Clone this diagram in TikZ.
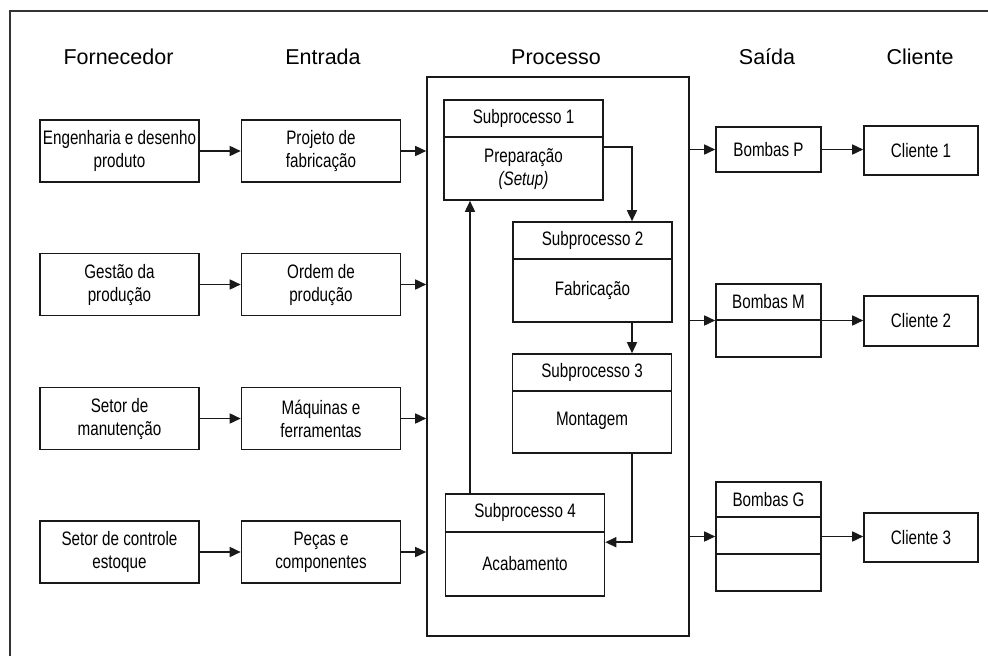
\documentclass[tikz,border=0pt]{standalone}
\usepackage{fontspec}
\setmainfont{Liberation Sans}
\newfontfamily\condfont[FakeStretch=0.78]{Liberation Sans}
\usetikzlibrary{arrows.meta,calc}

\tikzset{
  pen/.style={line width=1.6pt, draw=black!90},
  head/.style={anchor=base, inner sep=0pt, font=\fontsize{21.5}{25}\selectfont},
  box/.style={pen, rectangle, inner sep=0pt, align=center,
              font=\condfont\fontsize{19.5}{23}\selectfont},
  lbl/.style={inner sep=0pt, align=center,
              font=\condfont\fontsize{19.5}{23}\selectfont},
  arr/.style={pen, -{Triangle[length=11pt,width=10pt]}},
}

\begin{document}
\begin{tikzpicture}[x=1pt, y=-1pt]
\useasboundingbox (0,0) rectangle (988,656);

% page frame (open at right and bottom)
\draw[line width=1.3pt, black!80] (988,11) -- (10,11) -- (10,656);

% column headings
\node[head] (hF) at (118.5,64) {Fornecedor};
\node[head] (hE) at (323,64) {Entrada};
\node[head] (hP) at (556,64) {Processo};
\node[head] (hS) at (767,64) {Saída};
\node[head] (hC) at (920,64) {Cliente};

% suppliers
\begin{scope}[every node/.append style={box, minimum width=159pt, minimum height=62pt}]
\node (f1) at (119.5,151) {Engenharia e desenho\\produto};
\node (f2) at (119.5,284.5) {Gestão da\\produção};
\node (f3) at (119.5,418.5) {Setor de\\manutenção};
\node (f4) at (119.5,552) {Setor de controle\\estoque};
% inputs
\node (e1) at (321,151) {Projeto de\\fabricação};
\node (e2) at (321,284.5) {Ordem de\\produção};
\node (e3) at (321,418.5) {Máquinas e\\ferramentas};
\node (e4) at (321,552) {Peças e\\componentes};
\end{scope}

% process frame
\node[pen, rectangle, minimum width=262pt, minimum height=559pt, inner sep=0pt] (proc) at (558,356.5) {};

% subprocess boxes
\begin{scope}[every node/.append style={box, minimum width=159pt}]
\node[minimum height=100pt] (s1) at (523.5,150) {};
\node[minimum height=100pt] (s2) at (592.5,272) {};
\node[minimum height=99pt] (s3) at (592,403.5) {};
\node[minimum height=102pt] (s4) at (525,545) {};
\end{scope}

% title dividers
\draw[pen] ($(s1.north west)+(0,38)$) -- ($(s1.north east)+(0,38)$);
\draw[pen] ($(s2.north west)+(0,38)$) -- ($(s2.north east)+(0,38)$);
\draw[pen] ($(s3.north west)+(0,38)$) -- ($(s3.north east)+(0,38)$);
\draw[pen] ($(s4.north west)+(0,39)$) -- ($(s4.north east)+(0,39)$);

% subprocess labels
\node[lbl] (s1t) at ($(s1.north)+(0,19)$) {Subprocesso 1};
\node[lbl] (s1b) at ($(s1.north)+(0,70)$) {Preparação\\{\itshape (Setup)}};
\node[lbl] (s2t) at ($(s2.north)+(0,19)$) {Subprocesso 2};
\node[lbl] (s2b) at ($(s2.north)+(0,69)$) {Fabricação};
\node[lbl] (s3t) at ($(s3.north)+(0,19)$) {Subprocesso 3};
\node[lbl] (s3b) at ($(s3.north)+(0,68)$) {Montagem};
\node[lbl] (s4t) at ($(s4.north)+(0,19.5)$) {Subprocesso 4};
\node[lbl] (s4b) at ($(s4.north)+(0,70)$) {Acabamento};

% outputs
\node[box, minimum width=105pt, minimum height=45pt] (bp) at (768.5,149.5) {Bombas P};
\node[box, minimum width=105pt, minimum height=73pt] (bm) at (768.5,320.5) {};
\node[box, minimum width=105pt, minimum height=109pt] (bg) at (768.5,536.5) {};
\draw[pen] ($(bm.north west)+(0,37)$) -- ($(bm.north east)+(0,37)$);
\draw[pen] ($(bg.north west)+(0,36)$) -- ($(bg.north east)+(0,36)$);
\draw[pen] ($(bg.north west)+(0,73)$) -- ($(bg.north east)+(0,73)$);
\node[lbl] (bmt) at ($(bm.north)+(0,18)$) {Bombas M};
\node[lbl] (bgt) at ($(bg.north)+(0,18)$) {Bombas G};

% clients
\begin{scope}[every node/.append style={box, minimum width=114pt}]
\node[minimum height=49pt] (c1) at (921,150.5) {Cliente 1};
\node[minimum height=50pt] (c2) at (921,321) {Cliente 2};
\node[minimum height=49pt] (c3) at (921,537.5) {Cliente 3};
\end{scope}

% supplier -> input -> process
\foreach \i in {1,...,4}{
  \draw[arr] (f\i.east) -- (f\i.east -| e\i.west);
  \draw[arr] (e\i.east) -- (e\i.east -| proc.west);
}

% process -> outputs -> clients
\draw[arr] (proc.east |- bp.west) -- (bp.west);
\draw[arr] (proc.east |- bm.west) -- (bm.west);
\draw[arr] (proc.east |- bg.west) -- (bg.west);
\draw[arr] (bp.east) -- (bp.east -| c1.west);
\draw[arr] (bm.east) -- (bm.east -| c2.west);
\draw[arr] (bg.east) -- (bg.east -| c3.west);

% subprocess chain
\coordinate (cx) at (632,0);
\coordinate (lx) at (470,0);
\draw[arr] ($(s1.north east)+(0,48)$) -| (s2.north -| cx);
\draw[arr] (s2.south -| cx) -- (s3.north -| cx);
\draw[arr] (s3.south -| cx) |- ($(s4.north east)+(0,49)$);
\draw[arr] (s4.north -| lx) -- (s1.south -| lx);
\end{tikzpicture}
\end{document}
